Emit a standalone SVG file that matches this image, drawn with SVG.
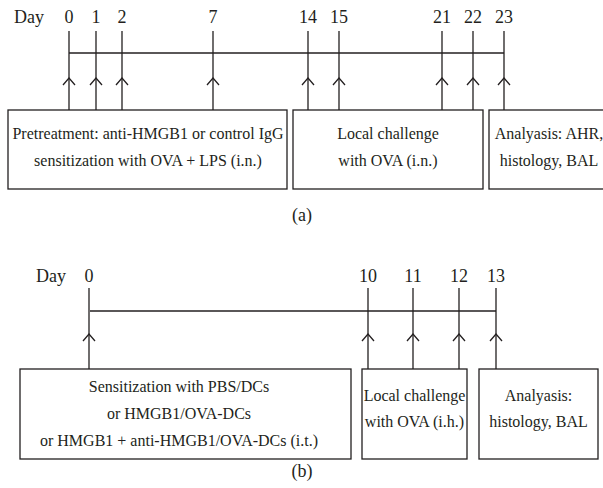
<svg xmlns="http://www.w3.org/2000/svg" width="603" height="488" viewBox="0 0 603 488">
<defs>
<marker id="chev" markerUnits="userSpaceOnUse" markerWidth="16" markerHeight="16" viewBox="-8 -8 16 16" refX="0" refY="0" orient="auto" overflow="visible">
<path d="M-7,-6 L0,0 L-7,6" fill="none" stroke="#231f20" stroke-width="1.3"/>
</marker>
</defs>
<style>
text{font-family:'Liberation Serif',Tinos,'Times New Roman',Times,'DejaVu Serif',serif;fill:#231f20}
.lab{font-size:18px}
.bt{font-size:16px;text-anchor:middle}
.num{text-anchor:middle}
.box{fill:#fff;stroke:#231f20;stroke-width:1.3}
.ln{fill:none;stroke:#231f20;stroke-width:1.3}
.ar{fill:none;stroke:#231f20;stroke-width:1.3;marker-mid:url(#chev)}
</style>

<g id="panel-a-labels">
<text class="lab" x="14" y="23">Day</text>
<text class="lab num" x="69" y="23">0</text>
<text class="lab num" x="96" y="23">1</text>
<text class="lab num" x="122" y="23">2</text>
<text class="lab num" x="213" y="23">7</text>
<text class="lab num" x="308" y="23">14</text>
<text class="lab num" x="339" y="23">15</text>
<text class="lab num" x="442" y="23">21</text>
<text class="lab num" x="473" y="23">22</text>
<text class="lab num" x="504" y="23">23</text>
</g>

<g id="connectors-a">
<path class="ln" d="M69 53 H504"/>
<path class="ar" d="M69 110 V78 V31"/>
<path class="ar" d="M96 110 V78 V31"/>
<path class="ar" d="M122 110 V78 V31"/>
<path class="ar" d="M213 110 V78 V31"/>
<path class="ar" d="M308 110 V78 V31"/>
<path class="ar" d="M339 110 V78 V31"/>
<path class="ar" d="M442 110 V78 V31"/>
<path class="ar" d="M473 110 V78 V31"/>
<path class="ar" d="M504 110 V78 V31"/>
</g>

<g id="a-pretreatment">
<rect class="box" x="8" y="110" width="279" height="79"/>
<text class="bt" x="148" y="139">Pretreatment: anti-HMGB1 or control IgG</text>
<text class="bt" x="148" y="166">sensitization with OVA + LPS (i.n.)</text>
</g>
<g id="a-challenge">
<rect class="box" x="293" y="110" width="190" height="79"/>
<text class="bt" x="388" y="139">Local challenge</text>
<text class="bt" x="388" y="166">with OVA (i.n.)</text>
</g>
<g id="a-analysis">
<rect class="box" x="489" y="110" width="124" height="79"/>
<text class="bt" x="549" y="139">Analyasis: AHR,</text>
<text class="bt" x="549" y="166">histology, BAL</text>
</g>
<text class="lab num" x="302" y="221">(a)</text>

<g id="panel-b-labels">
<text class="lab" x="36" y="282">Day</text>
<text class="lab num" x="89" y="282">0</text>
<text class="lab num" x="368" y="282">10</text>
<text class="lab num" x="413" y="282">11</text>
<text class="lab num" x="459" y="282">12</text>
<text class="lab num" x="496" y="282">13</text>
</g>

<g id="connectors-b">
<path class="ln" d="M90 311 H496"/>
<path class="ar" d="M89 369 V334 V288"/>
<path class="ar" d="M368 369 V334 V288"/>
<path class="ar" d="M413 369 V334 V288"/>
<path class="ar" d="M459 369 V334 V288"/>
<path class="ar" d="M496 369 V334 V288"/>
</g>

<g id="b-sensitization">
<rect class="box" x="20" y="369" width="331" height="90"/>
<text class="bt" x="179" y="392">Sensitization with PBS/DCs</text>
<text class="bt" x="179" y="419">or HMGB1/OVA-DCs</text>
<text class="bt" x="179" y="446">or HMGB1 + anti-HMGB1/OVA-DCs (i.t.)</text>
</g>
<g id="b-challenge">
<rect class="box" x="362" y="369" width="105" height="90"/>
<text class="bt" x="414.5" y="401">Local challenge</text>
<text class="bt" x="414.5" y="427">with OVA (i.h.)</text>
</g>
<g id="b-analysis">
<rect class="box" x="479" y="369" width="119" height="90"/>
<text class="bt" x="538.5" y="401">Analyasis:</text>
<text class="bt" x="538.5" y="427">histology, BAL</text>
</g>
<text class="lab num" x="302" y="477">(b)</text>
</svg>
